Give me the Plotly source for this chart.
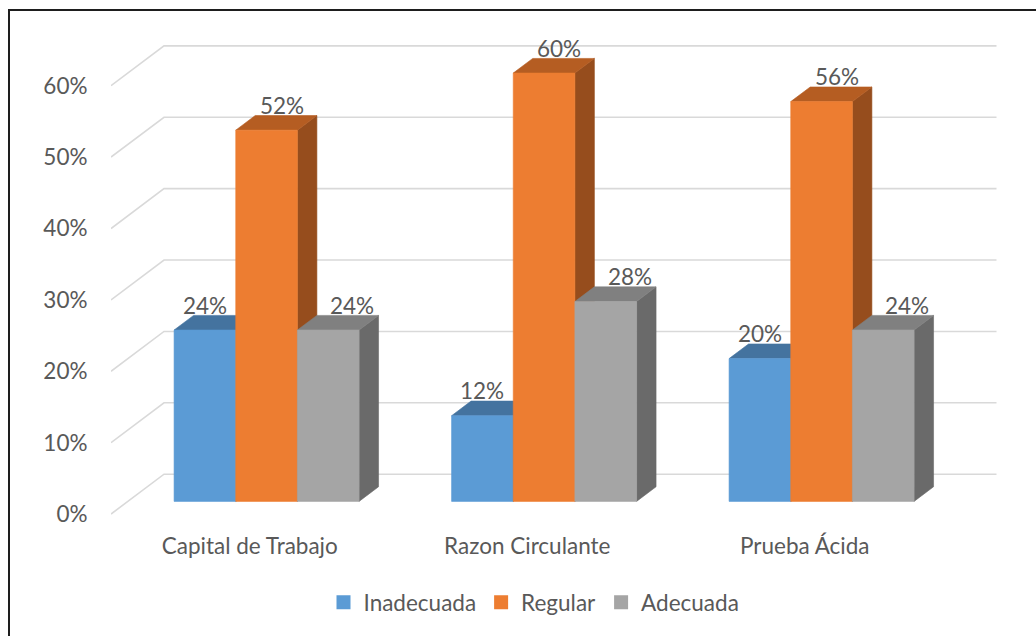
import plotly.graph_objects as go

# ---- data ----
categories = ["Capital de Trabajo", "Razon Circulante", "Prueba Ácida"]
series_names = ["Inadecuada", "Regular", "Adecuada"]
inadecuada = [24, 12, 20]
regular = [52, 60, 56]
adecuada = [24, 28, 24]
y_ticks = [0, 10, 20, 30, 40, 50, 60]
y_tick_labels = [f"{t}%" for t in y_ticks]

series_values = [inadecuada, regular, adecuada]

# ---- styling ----
front_colors = ["#5b9bd5", "#ed7d31", "#a5a5a5"]
top_colors = ["#44739f", "#b55d22", "#808080"]
side_colors = ["#3b6890", "#964d1d", "#6a6a6a"]
label_xshift = [0, 15, 24]
text_color = "#595959"
grid_color = "#d9d9d9"
FONT = "Lato"
FS = 22.5

W, H = 1036, 636
PL, PR, PT, PB = 111, 997, 20, 527   # plot area in pixels
U_PX = 277.5                          # pixels per category slot
PCT_PX = 7.167                        # pixels per percentage point
ZERO_PX = 516                         # pixel row of 0 % on the front plane

x_range = [-0.5, -0.5 + (PR - PL) / U_PX]
y_range = [-(PB - ZERO_PX) / PCT_PX, (ZERO_PX - PT) / PCT_PX]

# oblique projection of depth (0 = front edge, 1 = back wall)
DEPTH_DX = 53 / U_PX
DEPTH_DY = 40 / PCT_PX
F_FRONT, F_BACK = 0.3175, 0.685
BAR_W = 1 / 4.5


def proj(u, v, f):
    return u + f * DEPTH_DX, v + f * DEPTH_DY


def face(points, color):
    xs = [p[0] for p in points] + [points[0][0]]
    ys = [p[1] for p in points] + [points[0][1]]
    return go.Scatter(x=xs, y=ys, mode="lines", fill="toself", fillcolor=color,
                      line=dict(color=color, width=0.6), hoverinfo="skip",
                      showlegend=False)


fig = go.Figure()

# side wall + back wall gridlines
gx, gy = [], []
for t in y_ticks:
    x0, y0 = proj(-0.5, t, 0)
    x1, y1 = proj(-0.5, t, 1)
    gx += [x0, x1, x1 + 3, None]
    gy += [y0, y1, y1, None]
fig.add_trace(go.Scatter(x=gx, y=gy, mode="lines", line=dict(color=grid_color, width=1.6),
                         hoverinfo="skip", showlegend=False))

annotations = []
for i, cat in enumerate(categories):
    for s, vals in enumerate(series_values):
        v = vals[i]
        uL = i - 1.5 * BAR_W + s * BAR_W
        uR = uL + BAR_W
        fl_b, fl_t = proj(uL, 0, F_FRONT), proj(uL, v, F_FRONT)
        fr_b, fr_t = proj(uR, 0, F_FRONT), proj(uR, v, F_FRONT)
        bl_t = proj(uL, v, F_BACK)
        br_b, br_t = proj(uR, 0, F_BACK), proj(uR, v, F_BACK)
        fig.add_trace(face([fr_b, br_b, br_t, fr_t], side_colors[s]))
        fig.add_trace(face([fl_t, fr_t, br_t, bl_t], top_colors[s]))
        fig.add_trace(face([fl_b, fr_b, fr_t, fl_t], front_colors[s]))
        cx, cy = proj((uL + uR) / 2, v, F_FRONT)
        annotations.append(dict(x=cx, y=cy, xref="x", yref="y", text=f"{v}%",
                                showarrow=False, xanchor="center", yanchor="middle",
                                xshift=label_xshift[s], yshift=25,
                                font=dict(family=FONT, size=FS, color=text_color)))

# legend entries
for s, name in enumerate(series_names):
    fig.add_trace(go.Scatter(x=[None], y=[None], mode="markers", name=name,
                             marker=dict(symbol="square", size=14, color=front_colors[s])))


def px_x(x):
    return (x - PL) / (PR - PL)


def px_y(y):
    return (PB - y) / (PB - PT)


frame = dict(color="#1e1e1e", width=2)
fig.update_layout(
    width=W, height=H,
    margin=dict(l=PL, r=W - PR, t=PT, b=H - PB),
    paper_bgcolor="white", plot_bgcolor="white",
    font=dict(family=FONT, size=FS, color=text_color),
    xaxis=dict(range=x_range, tickvals=[0, 1, 2], ticktext=categories,
               showgrid=False, zeroline=False, showline=False,
               ticks="outside", ticklen=1, tickcolor="rgba(0,0,0,0)",
               tickfont=dict(family=FONT, size=FS, color=text_color), fixedrange=True),
    yaxis=dict(range=y_range, tickvals=y_ticks, ticktext=y_tick_labels,
               showgrid=False, zeroline=False, showline=False,
               ticks="outside", ticklen=18, tickcolor="rgba(0,0,0,0)",
               tickfont=dict(family=FONT, size=FS, color=text_color), fixedrange=True),
    legend=dict(orientation="h", x=px_x(534), y=px_y(605), xanchor="center",
                yanchor="middle", font=dict(family=FONT, size=FS, color=text_color),
                bgcolor="rgba(0,0,0,0)"),
    annotations=annotations,
    shapes=[
        dict(type="line", xref="paper", yref="paper", x0=px_x(8), y0=px_y(10),
             x1=px_x(W + 5), y1=px_y(10), line=frame, layer="above"),
        dict(type="line", xref="paper", yref="paper", x0=px_x(9), y0=px_y(9),
             x1=px_x(9), y1=px_y(H + 5), line=frame, layer="above"),
    ],
    showlegend=True,
)

fig.write_html("out.html")
